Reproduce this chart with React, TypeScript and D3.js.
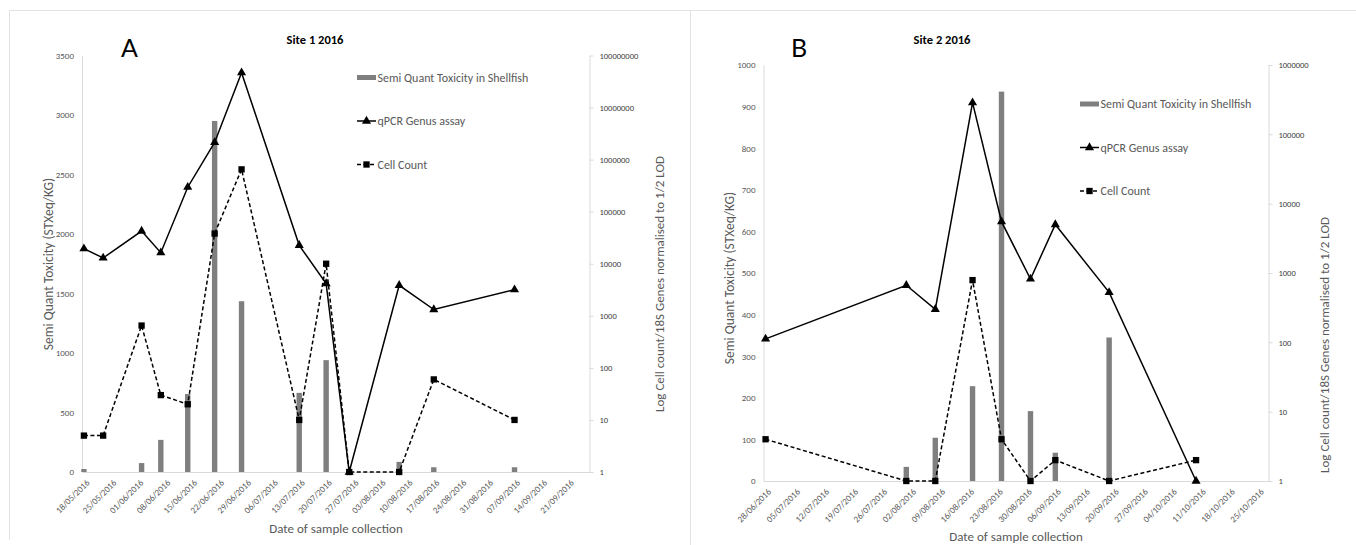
import React, { useEffect, useRef } from "react";
import * as d3 from "d3";

const parseDate = d3.timeParse("%d/%m/%Y");

// Site 1 2016
const site1Dates = ["18/05/2016", "23/05/2016", "02/06/2016", "07/06/2016", "14/06/2016", "21/06/2016", "28/06/2016", "13/07/2016", "20/07/2016", "26/07/2016", "08/08/2016", "17/08/2016", "07/09/2016"];
const site1Toxicity = [25, 0, 75, 270, 655, 2950, 1435, 665, 940, 0, 85, 40, 40];
const site1Qpcr = [19500, 12900, 42400, 16300, 295000, 2140000, 46800000, 22600, 4160, 1, 3860, 1320, 3170];
const site1Cells = [5, 5, 650, 30, 20, 38000, 650000, 10, 10000, 1, 1, 60, 10];
const site1Range = ["18/05/2016", "27/09/2016"];
const site1LeftTicks = [0, 500, 1000, 1500, 2000, 2500, 3000, 3500];
const site1RightTicks = [1, 10, 100, 1000, 10000, 100000, 1000000, 10000000, 100000000];

// Site 2 2016
const site2Dates = ["28/06/2016", "01/08/2016", "08/08/2016", "17/08/2016", "24/08/2016", "31/08/2016", "06/09/2016", "19/09/2016", "10/10/2016"];
const site2Toxicity = [0, 34, 104, 228, 936, 168, 68, 345, 0];
const site2Qpcr = [112, 665, 299, 286000, 5500, 820, 5000, 525, 1];
const site2Cells = [4, 1, 1, 790, 4, 1, 2, 1, 2];
const site2Range = ["28/06/2016", "28/10/2016"];
const site2LeftTicks = [0, 100, 200, 300, 400, 500, 600, 700, 800, 900, 1000];
const site2RightTicks = [1, 10, 100, 1000, 10000, 100000, 1000000];

const FONT = "Carlito, Lato, 'Open Sans', sans-serif";
const GREY = "#595959";
const AXIS = "#d9d9d9";

const panels = [
  {
    letter: "A", title: "Site 1 2016", titleX: 315, letterX: 121,
    dates: site1Dates, tox: site1Toxicity, qpcr: site1Qpcr, cells: site1Cells,
    range: site1Range, leftTicks: site1LeftTicks, rightTicks: site1RightTicks,
    x0: 82, x1: 589.5, top: 55.5, bottom: 472,
    leftTitleX: 48, leftTitleY: 264, rightTitleX: 659, rightTitleY: 284,
    xTitleX: 336, xTitleY: 528, legendX: 357, legendY: [77.5, 121, 164.5],
  },
  {
    letter: "B", title: "Site 2 2016", titleX: 942, letterX: 791,
    dates: site2Dates, tox: site2Toxicity, qpcr: site2Qpcr, cells: site2Cells,
    range: site2Range, leftTicks: site2LeftTicks, rightTicks: site2RightTicks,
    x0: 763.5, x1: 1268.5, top: 65, bottom: 481,
    leftTitleX: 729, leftTitleY: 278, rightTitleX: 1324, rightTitleY: 345,
    xTitleX: 1016, xTitleY: 536, legendX: 1080, legendY: [104, 147.5, 191],
  },
];

const App = () => {
  const svgRef = useRef(null);

  useEffect(() => {
    const svg = d3.select(svgRef.current);
    svg.selectAll("*").remove();

    // panel frame lines
    svg.append("line").attr("x1", 9).attr("x2", 1356).attr("y1", 10.5).attr("y2", 10.5).attr("stroke", "#e3e3e3");
    svg.append("line").attr("x1", 9.5).attr("x2", 9.5).attr("y1", 10).attr("y2", 540).attr("stroke", "#e3e3e3");
    svg.append("line").attr("x1", 690.5).attr("x2", 690.5).attr("y1", 10).attr("y2", 545).attr("stroke", "#e3e3e3");

    panels.forEach((p) => {
      const g = svg.append("g").style("font-family", FONT);
      const start = parseDate(p.range[0]);
      const end = parseDate(p.range[1]);
      const x = d3.scaleTime().domain([start, end]).range([p.x0, p.x1]);
      const xc = (d) => x(d3.timeHour.offset(d, 12));
      const yL = d3.scaleLinear().domain([0, p.leftTicks[p.leftTicks.length - 1]]).range([p.bottom, p.top]);
      const yR = d3.scaleLog().domain([1, p.rightTicks[p.rightTicks.length - 1]]).range([p.bottom, p.top]);

      const rows = p.dates.map((s, i) => ({
        date: parseDate(s), tox: p.tox[i], qpcr: p.qpcr[i], cells: p.cells[i],
      }));

      // left axis
      const left = g.append("g").attr("transform", `translate(${p.x0},0)`)
        .call(d3.axisLeft(yL).tickValues(p.leftTicks).tickFormat(d3.format("d")).tickSize(0).tickPadding(8));
      left.select(".domain").attr("stroke", AXIS);
      left.selectAll("text").attr("fill", GREY).style("font-size", "9px").style("font-family", FONT);

      // right axis
      const right = g.append("g").attr("transform", `translate(${p.x1},0)`)
        .call(d3.axisRight(yR).tickValues(p.rightTicks).tickFormat(d3.format("d")).tickSize(4).tickSizeOuter(0).tickPadding(6));
      right.select(".domain").attr("stroke", AXIS);
      right.selectAll("line").attr("stroke", AXIS);
      right.selectAll("text").attr("fill", "#404040").style("font-size", "8.5px").style("font-family", FONT);

      // bottom axis
      const ticks = d3.timeDay.range(start, end, 1).filter((d, i) => i % 7 === 0);
      const bottom = g.append("g").attr("transform", `translate(0,${p.bottom})`)
        .call(d3.axisBottom(x).tickValues(ticks).tickSize(0).tickSizeOuter(0).tickFormat(d3.timeFormat("%d/%m/%Y")));
      bottom.select(".domain").attr("stroke", AXIS);
      bottom.selectAll(".tick").attr("transform", (d) => `translate(${xc(d)},0)`);
      bottom.selectAll("text")
        .attr("fill", GREY).style("font-size", "9px").style("font-family", FONT)
        .attr("text-anchor", "end").attr("dy", "0.35em").attr("y", 0)
        .attr("transform", "translate(4,9) rotate(-45)");

      // bars
      g.append("g").selectAll("rect").data(rows.filter((r) => r.tox > 0)).join("rect")
        .attr("x", (r) => xc(r.date) - 2.7).attr("width", 5.4)
        .attr("y", (r) => yL(r.tox)).attr("height", (r) => p.bottom - yL(r.tox))
        .attr("fill", "#7f7f7f");

      const line = (key) => d3.line().x((r) => xc(r.date)).y((r) => yR(r[key]));

      g.append("path").datum(rows).attr("d", line("cells")).attr("fill", "none")
        .attr("stroke", "#000").attr("stroke-width", 1.5).attr("stroke-dasharray", "4,2.5");
      g.append("path").datum(rows).attr("d", line("qpcr")).attr("fill", "none")
        .attr("stroke", "#000").attr("stroke-width", 1.5);

      const tri = d3.symbol(d3.symbolTriangle, 36);
      const sq = d3.symbol(d3.symbolSquare, 40);
      g.append("g").selectAll("path").data(rows).join("path")
        .attr("d", tri).attr("transform", (r) => `translate(${xc(r.date)},${yR(r.qpcr)})`).attr("fill", "#000");
      g.append("g").selectAll("path").data(rows).join("path")
        .attr("d", sq).attr("transform", (r) => `translate(${xc(r.date)},${yR(r.cells)})`).attr("fill", "#000");

      // titles
      g.append("text").attr("x", p.titleX).attr("y", 44).attr("text-anchor", "middle")
        .style("font-size", "12.5px").style("font-weight", "bold").attr("fill", "#000").text(p.title);
      g.append("text").attr("x", p.letterX).attr("y", 57).style("font-size", "25px")
        .style("font-family", "Lato, sans-serif").attr("fill", "#000").text(p.letter);
      g.append("text").attr("transform", `translate(${p.leftTitleX},${p.leftTitleY}) rotate(-90)`)
        .attr("text-anchor", "middle").attr("dy", "0.35em").style("font-size", "13.5px").attr("fill", GREY)
        .text("Semi Quant Toxicity (STXeq/KG)");
      g.append("text").attr("transform", `translate(${p.rightTitleX},${p.rightTitleY}) rotate(-90)`)
        .attr("text-anchor", "middle").attr("dy", "0.35em").style("font-size", "13px").attr("fill", GREY)
        .text("Log Cell count/18S Genes normalised to 1/2 LOD");
      g.append("text").attr("x", p.xTitleX).attr("y", p.xTitleY).attr("text-anchor", "middle")
        .attr("dy", "0.35em").style("font-size", "13px").attr("fill", GREY).text("Date of sample collection");

      // legend
      const lg = g.append("g").attr("transform", `translate(${p.legendX},0)`);
      lg.append("rect").attr("x", 0).attr("y", p.legendY[0] - 2.5).attr("width", 19).attr("height", 5).attr("fill", "#7f7f7f");
      lg.append("line").attr("x1", 0).attr("x2", 19).attr("y1", p.legendY[1]).attr("y2", p.legendY[1]).attr("stroke", "#000").attr("stroke-width", 1.5);
      lg.append("path").attr("d", tri).attr("transform", `translate(9.5,${p.legendY[1]})`).attr("fill", "#000");
      lg.append("line").attr("x1", 0).attr("x2", 19).attr("y1", p.legendY[2]).attr("y2", p.legendY[2]).attr("stroke", "#000").attr("stroke-width", 1.5).attr("stroke-dasharray", "4,2.5");
      lg.append("path").attr("d", sq).attr("transform", `translate(9.5,${p.legendY[2]})`).attr("fill", "#000");
      const labels = ["Semi Quant Toxicity in Shellfish", "qPCR Genus assay", "Cell Count"];
      labels.forEach((t, i) => {
        lg.append("text").attr("x", 20.5).attr("y", p.legendY[i]).attr("dy", "0.35em")
          .style("font-size", "12px").attr("fill", GREY).text(t);
      });
    });
  }, []);

  return (
    <svg ref={svgRef} width={1356} height={545}
      style={{ position: "absolute", left: 0, top: 0, background: "#fff" }} />
  );
};

export default App;
